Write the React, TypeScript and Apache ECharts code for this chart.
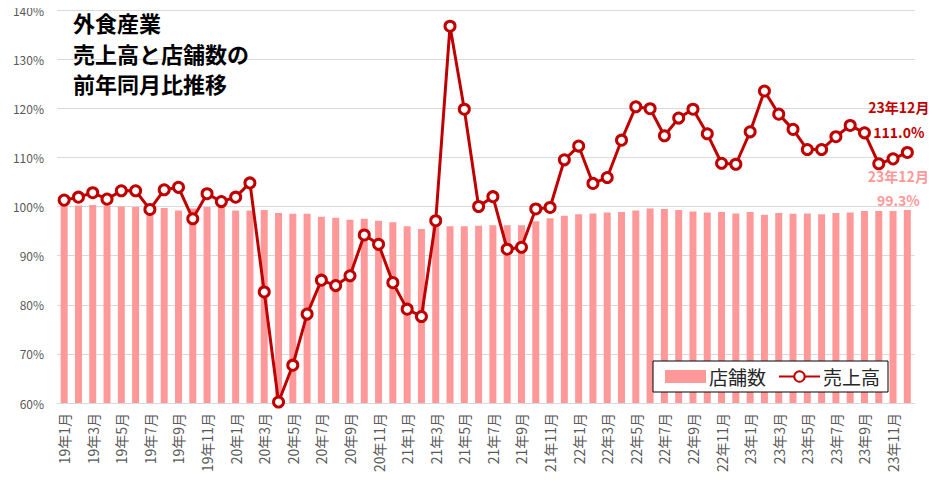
import React, { useEffect, useRef } from "react";
import * as echarts from "echarts";

const years = ["19", "20", "21", "22", "23"];
const categories: string[] = [];
years.forEach((y) => {
  for (let m = 1; m <= 12; m++) categories.push(`${y}年${m}月`);
});

const storeCounts = [
  100.2, 100.2, 100.3, 100.2, 100.0, 99.9, 99.8, 99.7, 99.2, 99.6, 99.9, 99.9,
  99.2, 99.2, 99.3, 98.7, 98.5, 98.5, 97.9, 97.7, 97.3, 97.5, 97.1, 96.8,
  96.0, 95.4, 95.8, 96.0, 96.0, 96.1, 96.2, 96.2, 96.2, 97.0, 97.6, 98.1,
  98.4, 98.6, 98.8, 98.9, 99.2, 99.6, 99.5, 99.3, 99.0, 98.8, 98.9, 98.6,
  98.9, 98.3, 98.7, 98.5, 98.6, 98.4, 98.7, 98.8, 99.1, 99.1, 99.1, 99.3,
];

const sales = [
  101.3, 101.9, 102.8, 101.5, 103.2, 103.2, 99.4, 103.4, 103.9, 97.5, 102.6, 101.0,
  101.9, 104.8, 82.6, 60.2, 67.7, 78.1, 85.0, 83.9, 85.9, 94.2, 92.3, 84.5,
  79.1, 77.6, 97.1, 136.7, 119.8, 100.0, 102.0, 91.3, 91.7, 99.5, 99.8, 109.5,
  112.3, 104.7, 105.9, 113.5, 120.3, 119.9, 114.4, 118.0, 119.8, 114.8, 108.8, 108.6,
  115.2, 123.5, 118.8, 115.7, 111.6, 111.6, 114.2, 116.5, 115.0, 108.7, 109.7, 111.0,
];

const titleLines = ["外食産業", "売上高と店舗数の", "前年同月比推移"];

const yTicks = { min: 60, max: 140, interval: 10 };

const BAR_COLOR = "#FF9999";
const LINE_COLOR = "#C00000";
const FONT = "'Noto Sans CJK JP', 'Noto Sans', sans-serif";

export default function App() {
  const ref = useRef<HTMLDivElement>(null);
  useEffect(() => {
    if (!ref.current) return;
    const chart = echarts.init(ref.current, null, { renderer: "svg" });
    const last = categories.length - 1;
    const labelFormatter = (p: any) => `${p.name}\n${Number(p.value).toFixed(1)}%`;
    const lineData = sales.map((v, i) =>
      i === last
        ? {
            value: v,
            label: {
              show: true,
              position: [-2, -51],
              align: "center",
              verticalAlign: "top",
              formatter: labelFormatter,
              color: LINE_COLOR,
              fontWeight: "bold",
              fontSize: 14,
              lineHeight: 25,
              fontFamily: FONT,
            },
          }
        : v
    );
    const barData = storeCounts.map((v, i) =>
      i === last
        ? {
            value: v,
            label: {
              show: true,
              position: "top",
              distance: 2,
              offset: [-9, 4],
              formatter: labelFormatter,
              color: BAR_COLOR,
              fontWeight: "bold",
              fontSize: 14,
              lineHeight: 24,
              fontFamily: FONT,
            },
          }
        : v
    );
    chart.setOption({
      animation: false,
      textStyle: { fontFamily: FONT },
      title: titleLines.map((t, i) => ({
        text: t,
        left: 73,
        top: 10 + i * 30.5,
        padding: 0,
        textStyle: {
          fontFamily: FONT,
          fontSize: 22,
          fontWeight: "bold",
          color: "#000",
          lineHeight: 24,
        },
      })),
      legend: {
        left: 653,
        top: 361,
        padding: [6, 8, 6, 12],
        itemGap: 12,
        itemWidth: 41,
        itemHeight: 13,
        backgroundColor: "#fff",
        borderColor: "#000",
        borderWidth: 1,
        borderRadius: 0,
        textStyle: { fontSize: 19, color: "#262626", fontFamily: FONT, padding: [0, 0, 0, -2] },
        data: [
          { name: "店舗数", icon: "rect" },
          { name: "売上高" },
        ],
      },
      grid: { left: 57, right: 25.5, top: 10, bottom: 77, containLabel: false },
      xAxis: {
        type: "category",
        data: categories,
        boundaryGap: true,
        axisTick: { show: false },
        axisLine: { lineStyle: { color: "#D9D9D9", width: 1 } },
        axisLabel: {
          rotate: 90,
          interval: 1,
          fontSize: 14,
          color: "#595959",
          margin: 10,
          fontFamily: FONT,
        },
      },
      yAxis: {
        type: "value",
        min: yTicks.min,
        max: yTicks.max,
        interval: yTicks.interval,
        axisLine: { show: false },
        axisTick: { show: false },
        splitLine: { lineStyle: { color: "#D9D9D9", width: 1 } },
        axisLabel: {
          formatter: "{value}%",
          fontSize: 12,
          color: "#595959",
          margin: 13,
          fontFamily: FONT,
        },
      },
      series: [
        {
          name: "店舗数",
          type: "bar",
          data: barData,
          barWidth: 7,
          itemStyle: { color: BAR_COLOR },
          z: 2,
        },
        {
          name: "売上高",
          type: "line",
          data: lineData,
          symbol: "circle",
          symbolSize: 10,
          showSymbol: true,
          showAllSymbol: true,
          lineStyle: { color: LINE_COLOR, width: 3 },
          itemStyle: { color: "#fff", borderColor: LINE_COLOR, borderWidth: 3 },
          labelLayout: { hideOverlap: false },
          z: 3,
        },
      ],
    });
    return () => chart.dispose();
  }, []);
  return <div ref={ref} style={{ width: 940, height: 480, margin: -8 }} />;
}
